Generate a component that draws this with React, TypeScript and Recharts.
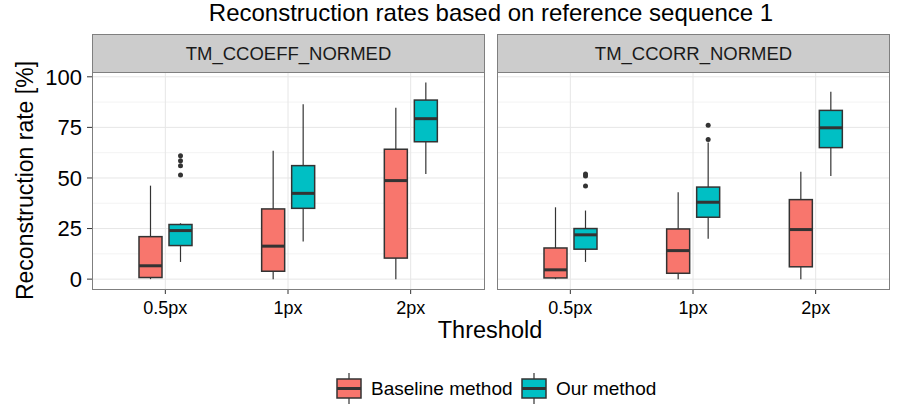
import { ComposedChart, Bar, XAxis, YAxis, CartesianGrid, ReferenceLine } from "recharts";

const thresholds = ["0.5px", "1px", "2px"];
const panelNames = ["TM_CCOEFF_NORMED", "TM_CCORR_NORMED"];
const methodNames = ["Baseline method", "Our method"];
const yTicks = [0, 25, 50, 75, 100];
const yMinorTicks = [12.5, 37.5, 62.5, 87.5];

// box stats per threshold: [lower whisker, q1, median, q3, upper whisker]
const ccoeffBaseline = [
  [0, 0.8, 6.6, 21, 46.2],
  [0, 3.9, 16.3, 34.7, 63.5],
  [0, 10.4, 48.7, 64.2, 84.7],
];
const ccoeffOur = [
  [8.5, 16.6, 24, 27, 27.6],
  [18.6, 35, 42.4, 56.1, 86.4],
  [52, 67.9, 79.3, 88.5, 97.2],
];
const ccoeffBaselineOutliers = [[], [], []];
const ccoeffOurOutliers = [[51.5, 56, 58.5, 61], [], []];

const ccorrBaseline = [
  [0, 0.6, 4.6, 15.4, 35.5],
  [0, 2.9, 14.1, 24.8, 42.9],
  [0, 6.1, 24.5, 39.3, 53.1],
];
const ccorrOur = [
  [8.5, 14.8, 21.9, 25, 33.9],
  [19.9, 30.6, 38, 45.5, 67.5],
  [51, 65, 74.8, 83.4, 92.6],
];
const ccorrBaselineOutliers = [[], [], []];
const ccorrOurOutliers = [[46, 51, 52], [69, 76], []];

const BASE_COLOR = "#F8766D";
const OUR_COLOR = "#00BFC4";
const LINE = "#333333";
const FONT = '"Liberation Sans", Arial, Helvetica, sans-serif';

type Row = {
  threshold: string;
  base: number[];
  our: number[];
  baseOut: number[];
  ourOut: number[];
};

const makeRows = (base, our, baseOut, ourOut): Row[] =>
  thresholds.map((t, i) => ({
    threshold: t,
    base: base[i],
    our: our[i],
    baseOut: baseOut[i],
    ourOut: ourOut[i],
  }));

const panels = [
  makeRows(ccoeffBaseline, ccoeffOur, ccoeffBaselineOutliers, ccoeffOurOutliers),
  makeRows(ccorrBaseline, ccorrOur, ccorrBaselineOutliers, ccorrOurOutliers),
];

// bar spans lower..upper whisker, inner positions interpolated on the same linear scale
const renderBox = (props, key: "base" | "our", fill: string) => {
  const { x, y, width, height, payload } = props;
  if (!payload) return <g />;
  const [lo, q1, med, q3, hi] = payload[key];
  const outliers = key === "base" ? payload.baseOut : payload.ourOut;
  const py = (v: number) => y + (height * (hi - v)) / (hi - lo);
  const cx = x + width / 2;
  return (
    <g>
      <line x1={cx} x2={cx} y1={py(hi)} y2={py(q3)} stroke={LINE} strokeWidth={1.2} />
      <line x1={cx} x2={cx} y1={py(q1)} y2={py(lo)} stroke={LINE} strokeWidth={1.2} />
      <rect
        x={x}
        y={py(q3)}
        width={width}
        height={py(q1) - py(q3)}
        fill={fill}
        stroke={LINE}
        strokeWidth={1.5}
      />
      <line x1={x} x2={x + width} y1={py(med)} y2={py(med)} stroke={LINE} strokeWidth={3} />
      {outliers.map((v, i) => (
        <circle key={i} cx={cx} cy={py(v)} r={2.5} fill={LINE} />
      ))}
    </g>
  );
};

const Panel = ({ rows, first }: { rows: Row[]; first: boolean }) => (
  <ComposedChart
    width={first ? 490 : 405}
    height={340}
    data={rows}
    margin={{ top: 72, right: 6, left: first ? 0 : 7, bottom: 0 }}
    barSize={23}
    barGap={7}
  >
    <CartesianGrid vertical={false} horizontalValues={yMinorTicks} stroke="#f3f3f3" />
    <CartesianGrid vertical={false} horizontalValues={yTicks} stroke="#e6e6e6" />
    {thresholds.map((t) => (
      <ReferenceLine key={t} x={t} stroke="#e6e6e6" />
    ))}
    <XAxis
      dataKey="threshold"
      height={51}
      padding={{ left: 12, right: 12 }}
      axisLine={false}
      tickLine={{ stroke: LINE }}
      tickSize={5}
      tickMargin={7}
      tick={{ fill: "#000", fontSize: 18, fontFamily: FONT }}
    />
    <YAxis
      type="number"
      domain={[-4.875, 102.375]}
      ticks={yTicks}
      allowDataOverflow
      hide={!first}
      width={92}
      axisLine={false}
      tickLine={{ stroke: LINE }}
      tickSize={5}
      tickMargin={5}
      tick={{ fill: "#000", fontSize: 22, fontFamily: FONT }}
    />
    <Bar
      dataKey={(d: Row) => [d.base[0], d.base[4]]}
      fill={BASE_COLOR}
      isAnimationActive={false}
      shape={(p) => renderBox(p, "base", BASE_COLOR)}
    />
    <Bar
      dataKey={(d: Row) => [d.our[0], d.our[4]]}
      fill={OUR_COLOR}
      isAnimationActive={false}
      shape={(p) => renderBox(p, "our", OUR_COLOR)}
    />
  </ComposedChart>
);

const LegendKey = ({ x, fill }: { x: number; fill: string }) => (
  <g>
    <line x1={x + 12} x2={x + 12} y1={373} y2={404} stroke={LINE} strokeWidth={1.2} />
    <rect x={x} y={379} width={24} height={19} fill={fill} stroke={LINE} strokeWidth={1.5} />
    <line x1={x} x2={x + 24} y1={388.5} y2={388.5} stroke={LINE} strokeWidth={3} />
  </g>
);

const panelLeft = [92, 497];

export default function App() {
  return (
    <div
      style={{
        position: "absolute",
        left: 0,
        top: 0,
        width: 903,
        height: 409,
        background: "#fff",
        fontFamily: FONT,
      }}
    >
      {panels.map((rows, i) => (
        <div key={i} style={{ position: "absolute", left: i === 0 ? 0 : 490, top: 0 }}>
          <Panel rows={rows} first={i === 0} />
        </div>
      ))}
      {panelNames.map((name, i) => (
        <div key={name}>
          <div
            style={{
              position: "absolute",
              left: panelLeft[i],
              top: 34,
              width: 393,
              height: 39,
              boxSizing: "border-box",
              background: "#cccccc",
              border: "1px solid #7f7f7f",
              display: "flex",
              alignItems: "center",
              justifyContent: "center",
              fontSize: 18.5,
              color: "#1a1a1a",
            }}
          >
            {name}
          </div>
          <div
            style={{
              position: "absolute",
              left: panelLeft[i],
              top: 72,
              width: 393,
              height: 218,
              boxSizing: "border-box",
              border: "1px solid #7f7f7f",
              pointerEvents: "none",
            }}
          />
        </div>
      ))}
      <svg
        width={903}
        height={409}
        style={{ position: "absolute", left: 0, top: 0, pointerEvents: "none" }}
        fontFamily={FONT}
      >
        <text x={491} y={21} textAnchor="middle" fontSize={24} fill="#000">
          Reconstruction rates based on reference sequence 1
        </text>
        <text x={490} y={338} textAnchor="middle" fontSize={23.5} fill="#000">
          Threshold
        </text>
        <text
          x={33}
          y={180.5}
          textAnchor="middle"
          fontSize={23}
          fill="#000"
          transform="rotate(-90, 33, 180.5)"
        >
          Reconstruction rate [%]
        </text>
        <LegendKey x={337} fill={BASE_COLOR} />
        <text x={371} y={395} fontSize={19} fill="#000">
          {methodNames[0]}
        </text>
        <LegendKey x={522} fill={OUR_COLOR} />
        <text x={556} y={395} fontSize={19} fill="#000">
          {methodNames[1]}
        </text>
      </svg>
    </div>
  );
}
